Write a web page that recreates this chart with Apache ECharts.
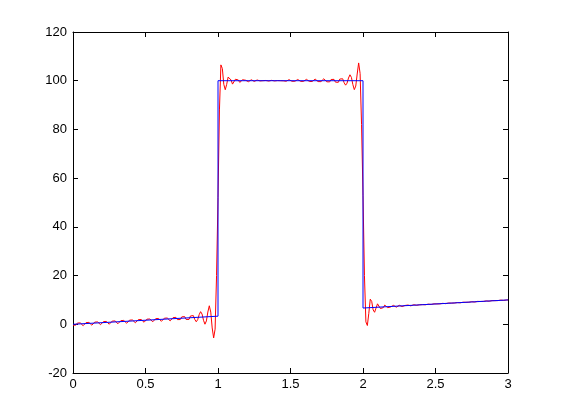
<!DOCTYPE html>
<html>
<head>
<meta charset="utf-8">
<script src="https://cdn.jsdelivr.net/npm/echarts@6/dist/echarts.min.js"></script>
<style>
  html, body { margin: 0; padding: 0; background: #fff; }
  #chart { width: 561px; height: 420px; }
</style>
</head>
<body>
<div id="chart"></div>
<script>
// red: series approximation, one value every redStep along x (0 .. 3)
const redStep = 0.01;
const redY = [
  -0.4, -0.77, -0.33, 0.5, 0.93, 0.57, -0.2, -0.57, -0.13, 0.7,
  1.13, 0.77, 0.0, -0.37, 0.07, 0.9, 1.33, 0.97, 0.2, -0.17,
  0.27, 1.1, 1.53, 1.17, 0.4, 0.03, 0.47, 1.3, 1.73, 1.37,
  0.6, 0.23, 0.67, 1.5, 1.93, 1.57, 0.8, 0.43, 0.87, 1.7,
  2.13, 1.77, 1.0, 0.63, 1.07, 1.9, 2.33, 1.97, 1.2, 0.83,
  1.27, 2.1, 2.53, 2.17, 1.4, 1.03, 1.47, 2.3, 2.73, 2.37,
  1.6, 1.23, 1.67, 2.5, 2.93, 2.57, 1.80, 1.41, 1.85, 2.74,
  3.23, 2.84, 1.92, 1.43, 1.95, 3.04, 3.66, 3.16, 1.99, 1.34,
  1.99, 3.41, 4.23, 3.56, 1.96, 1.03, 1.91, 3.94, 5.18, 4.20,
  1.65, 0.03, 1.38, 5.03, 7.6, 5.0, -1.5, -5.6, -2.0, 20,
  52, 88, 106.5, 105, 98.5, 96.3, 98.5, 101.5, 102, 100.3,
  98.6, 99.0, 100.6, 101.0, 100.3, 99.3, 99.4, 100.4, 100.6, 100.2,
  99.5, 99.6, 100.3, 100.4, 100.0, 99.7, 99.8, 100.3, 100.3, 99.9,
  99.7, 100.0, 100.2, 100.1, 99.9, 99.85, 100.0, 100.15, 100.1, 99.9,
  99.9, 100.05, 100.1, 100.0, 99.9, 99.95, 99.59, 99.79, 100.21, 100.43,
  100.22, 99.78, 99.54, 99.77, 100.24, 100.49, 100.25, 99.74, 99.48, 99.73,
  100.28, 100.56, 100.29, 99.70, 99.39, 99.69, 100.32, 100.67, 100.34, 99.65,
  99.27, 99.62, 100.39, 100.81, 100.42, 99.56, 99.08, 99.52, 100.5, 101.05,
  100.55, 99.42, 98.78, 99.35, 100.69, 101.47, 100.79, 99.15, 98.17, 99.0,
  101.1, 102.44, 101.38, 98.43, 96.33, 97.8, 102.75, 107.3, 103, 82,
  53, 20, 1.0, -0.5, 4.5, 10.3, 9.4, 5.9, 4.93, 6.67,
  8.4, 8.03, 6.47, 6.1, 6.83, 7.87, 7.8, 6.83, 6.67, 7.1,
  7.83, 7.77, 7.1, 7.03, 7.47, 7.8, 7.73, 7.27, 7.3, 7.73,
  7.97, 7.9, 7.53, 7.57, 7.9, 8.03, 7.97, 7.8, 7.78, 8.02,
  8.1, 8.08, 7.97, 8.0, 8.18, 8.27, 8.2, 8.13, 8.22, 8.4,
  8.43, 8.37, 8.3, 8.38, 8.57, 8.6, 8.53, 8.47, 8.55, 8.73,
  8.77, 8.7, 8.63, 8.72, 8.9, 8.93, 8.87, 8.8, 8.88, 9.07,
  9.1, 9.03, 8.97, 9.05, 9.23, 9.27, 9.2, 9.13, 9.22, 9.4,
  9.43, 9.37, 9.3, 9.38, 9.57, 9.6, 9.53, 9.47, 9.55, 9.73,
  9.77, 9.7, 9.63, 9.72, 9.9, 9.93, 9.87, 9.8, 9.93, 9.97,
  10
];

// blue: the original piecewise function
const blueX = [0, 1, 1, 2, 2, 3];
const blueY = [0, 3.33, 100, 100, 6.67, 10];

const xTicks = { min: 0, max: 3, interval: 0.5 };
const yTicks = { min: -20, max: 120, interval: 20 };

const redData = redY.map((v, i) => [+(i * redStep).toFixed(2), v]);
const blueData = blueX.map((x, i) => [x, blueY[i]]);

const font = "'Liberation Sans', Arial, sans-serif";

function axis(pos, range, labels) {
  return {
    type: "value",
    position: pos,
    min: range.min,
    max: range.max,
    interval: range.interval,
    axisLine: { show: true, onZero: false, lineStyle: { color: "#000", width: 1 } },
    axisTick: { show: true, inside: true, length: 5, lineStyle: { color: "#000" } },
    axisLabel: {
      show: labels,
      color: "#000",
      fontSize: 13,
      fontFamily: font,
      margin: pos === "bottom" ? 5 : 6
    },
    splitLine: { show: false }
  };
}

const myChart = echarts.init(document.getElementById("chart"));
const option = {
  animation: false,
  backgroundColor: "#fff",
  grid: { left: 73, right: 53, top: 32, bottom: 47 },
  xAxis: [axis("bottom", xTicks, true), axis("top", xTicks, false)],
  yAxis: [axis("left", yTicks, true), axis("right", yTicks, false)],
  series: [
    {
      type: "line",
      data: redData,
      showSymbol: false,
      lineStyle: { color: "#ff0000", width: 1 },
      itemStyle: { color: "#ff0000" },
      z: 2
    },
    {
      type: "line",
      data: blueData,
      showSymbol: false,
      lineStyle: { color: "#0000ff", width: 1 },
      itemStyle: { color: "#0000ff" },
      z: 3
    }
  ]
};
myChart.setOption(option);
</script>
</body>
</html>
